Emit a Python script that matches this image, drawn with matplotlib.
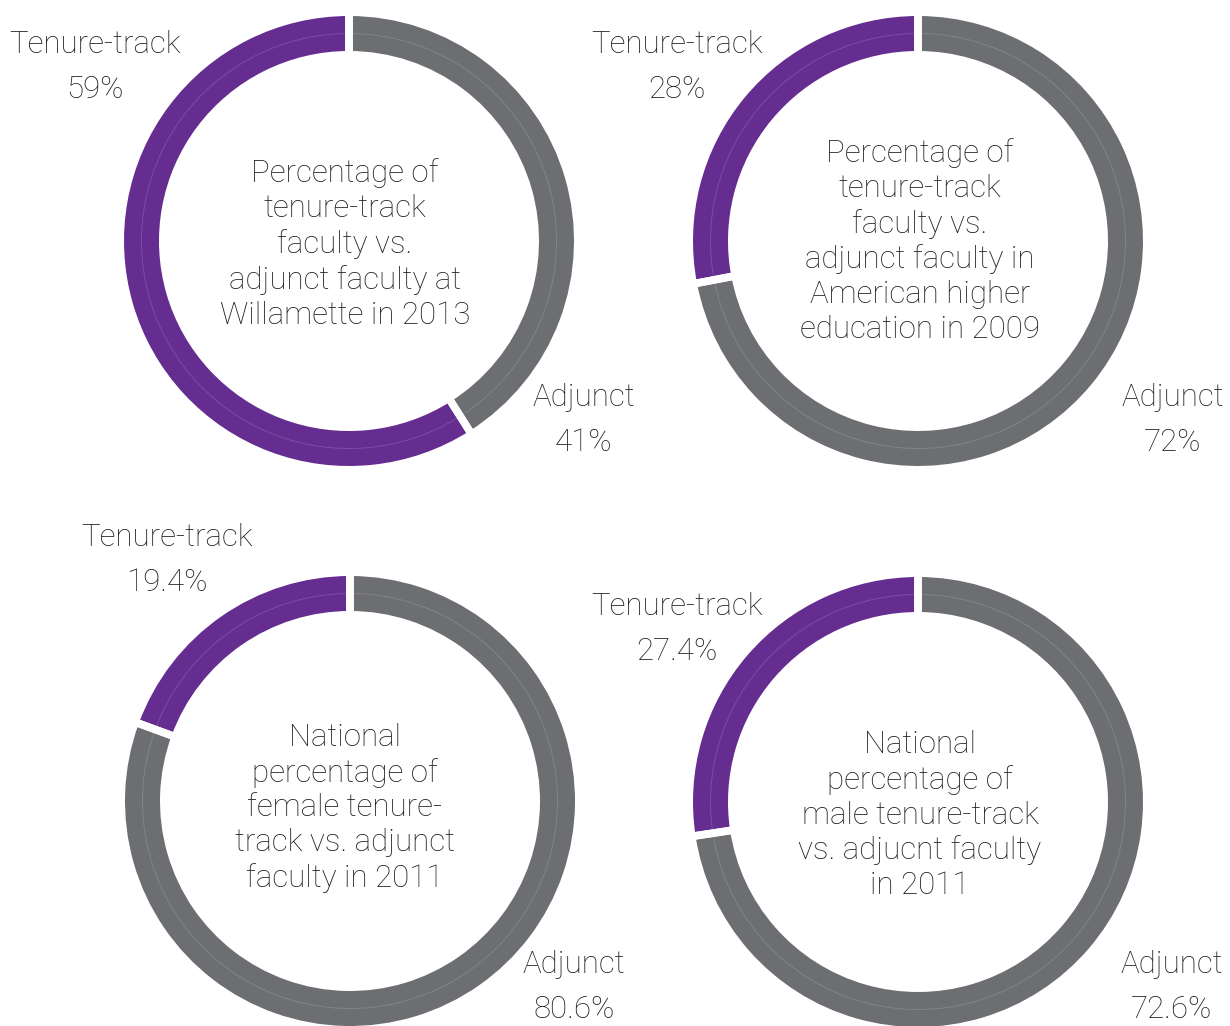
import matplotlib
matplotlib.use("Agg")
import matplotlib.pyplot as plt
from matplotlib.patches import Circle

plt.rcParams['font.family'] = ['Roboto', 'DejaVu Sans']

PURPLE = '#662d91'
GRAY = '#6d6e71'
INK = '#231f20'

# Share of faculty in each group (tenure-track, adjunct)
willamette_2013 = [59, 41]
national_2009 = [28, 72]
female_2011 = [19.4, 80.6]
male_2011 = [27.4, 72.6]

tenure_labels = ['Tenure-track\n59%', 'Tenure-track\n28%', 'Tenure-track\n19.4%', 'Tenure-track\n27.4%']
adjunct_labels = ['Adjunct\n41%', 'Adjunct\n72%', 'Adjunct\n80.6%', 'Adjunct\n72.6%']
titles = [
    'Percentage of\ntenure-track\nfaculty vs.\nadjunct faculty at\nWillamette in 2013',
    'Percentage of\ntenure-track\nfaculty vs.\nadjunct faculty in\nAmerican higher\neducation in 2009',
    'National\npercentage of\nfemale tenure-\ntrack vs. adjunct\nfaculty in 2011',
    'National\npercentage of\nmale tenure-track\nvs. adjucnt faculty\nin 2011',
]

W, H = 1230, 1026
fig = plt.figure(figsize=(W / 100, H / 100), dpi=100)
ax = fig.add_axes([0, 0, 1, 1])

R_OUT, RING = 225, 35
GAP = 5.5  # white separator stroke, points

centers = [(349, 241), (918, 241), (350, 801), (918, 802)]
tenure_pos = [(95, 67), (677, 67), (167, 560), (677, 629)]
adjunct_pos = [(584, 420), (1173, 420), (574, 987), (1172, 987)]
title_pos = [(345, 244), (920, 241), (345, 808), (920, 815)]
datasets = [willamette_2013, national_2009, female_2011, male_2011]

pad = GAP * 100 / 72 / 2
for (cx, cy_px), vals, tl, al, tt, tp, ap, ttp in zip(
        centers, datasets, tenure_labels, adjunct_labels, titles,
        tenure_pos, adjunct_pos, title_pos):
    cy = H - cy_px
    # filled ring
    ax.pie(vals, colors=[PURPLE, GRAY], startangle=90, counterclock=True,
           center=(cx, cy), radius=R_OUT + pad,
           wedgeprops=dict(width=RING + 2 * pad, linewidth=0), frame=True)
    # faint centre line running along the ring
    ax.add_patch(Circle((cx, cy), R_OUT - RING / 2, fill=False,
                        edgecolor='#ffffff', alpha=0.15, linewidth=0.7))
    # white separators between segments
    ax.pie(vals, colors=['none', 'none'], startangle=90, counterclock=True,
           center=(cx, cy), radius=R_OUT + pad,
           wedgeprops=dict(width=RING + 2 * pad, linewidth=GAP,
                           edgecolor='white', facecolor='none'), frame=True)
    ax.text(ttp[0], H - ttp[1], tt, ha='center', va='center', fontsize=22.5,
            fontweight='light', color=INK, linespacing=1.25)
    ax.text(tp[0], H - tp[1], tl, ha='center', va='center', fontsize=22.5,
            fontweight='light', color=INK, linespacing=1.7)
    ax.text(ap[0], H - ap[1], al, ha='center', va='center', fontsize=22.5,
            fontweight='light', color=INK, linespacing=1.7)

ax.set_xlim(0, W)
ax.set_ylim(0, H)
ax.set_aspect('equal')
ax.axis('off')
fig.savefig('out.png', dpi=100, facecolor='white')
